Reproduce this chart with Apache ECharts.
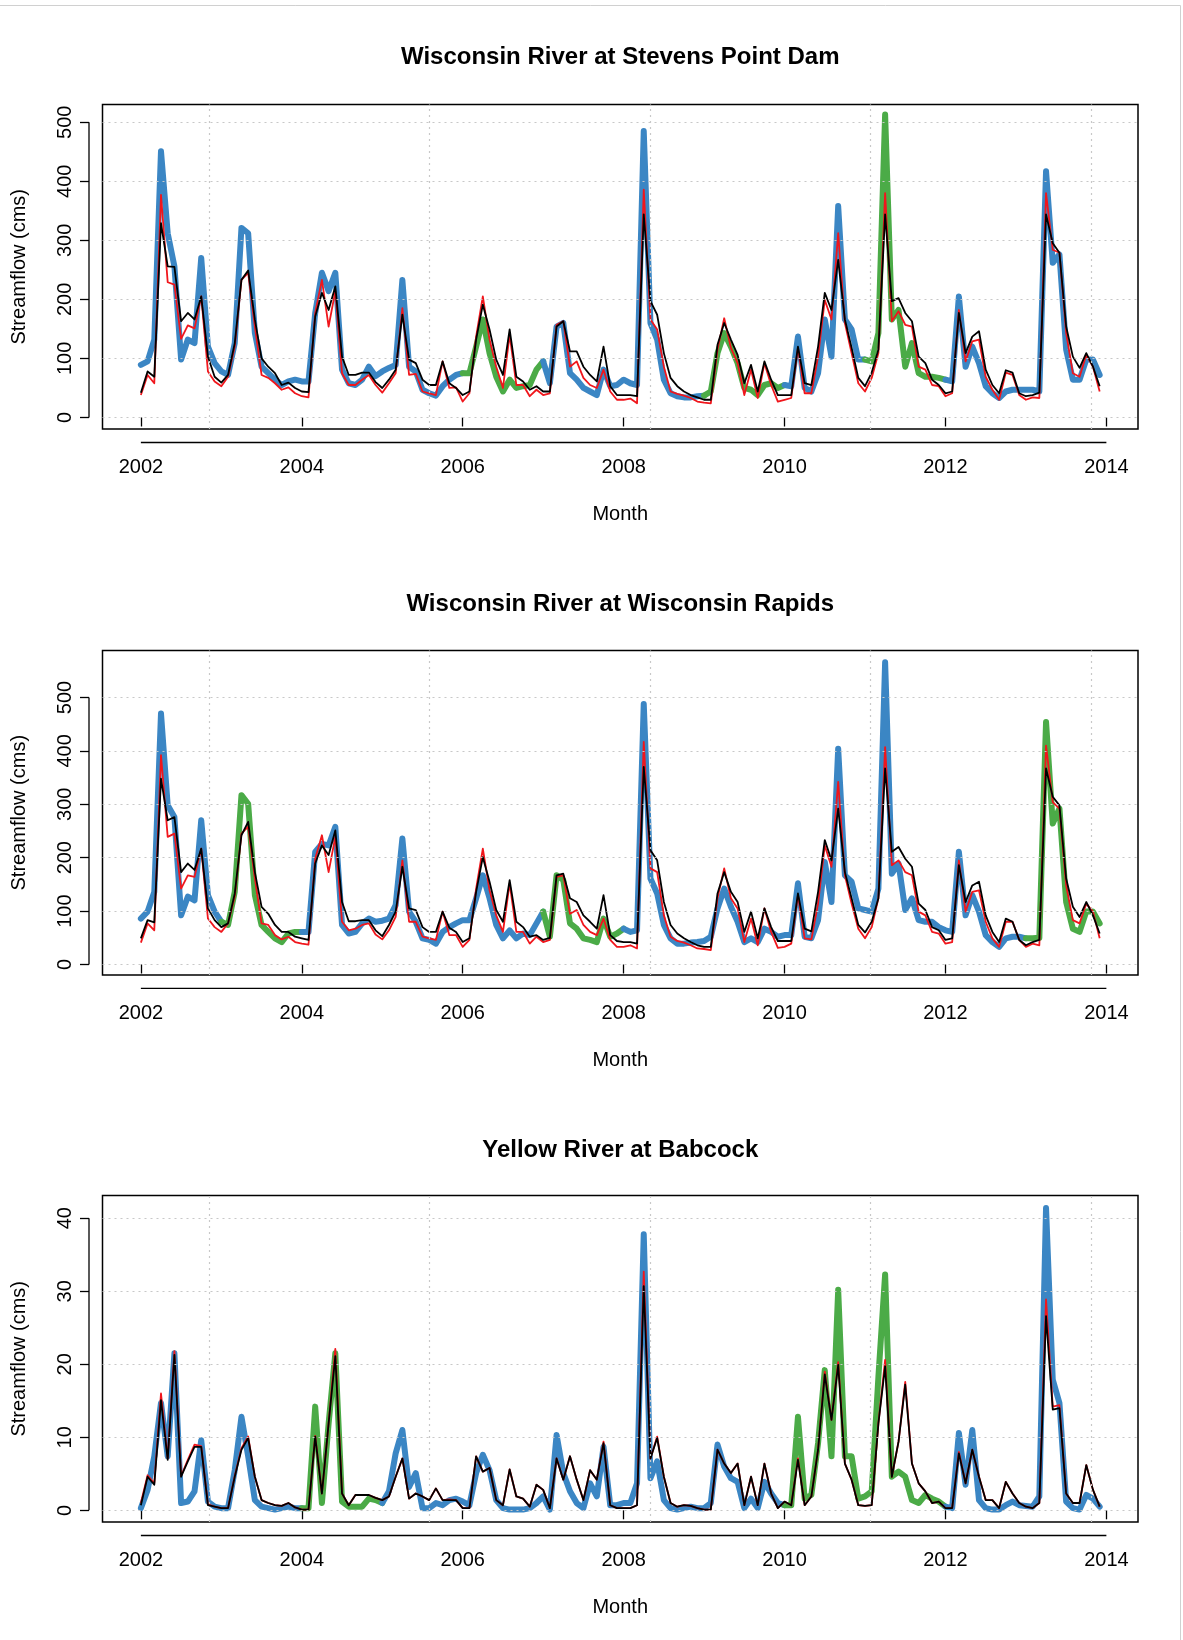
<!DOCTYPE html>
<html>
<head>
<meta charset="utf-8">
<title>Streamflow</title>
<script src="https://cdn.jsdelivr.net/npm/echarts@6/dist/echarts.min.js"></script>
<style>
  html, body { margin: 0; padding: 0; background: #ffffff; }
  #chart { width: 1183px; height: 1640px; }
</style>
</head>
<body>
<div id="chart"></div>
<script>
// Monthly time axis: Jan 2002 .. Dec 2013
const startYear = 2002;
const monthCount = 144;
const months = Array.from({ length: monthCount }, (_, i) => startYear + i / 12);

const xTickYears = [2002, 2004, 2006, 2008, 2010, 2012, 2014];
// grid() lines follow the pretty ticks of the underlying day counts (days since 1970-01-01)
const xGridDays = [12000, 13000, 14000, 15000, 16000];

const titles = [
  'Wisconsin River at Stevens Point Dam',
  'Wisconsin River at Wisconsin Rapids',
  'Yellow River at Babcock'
];
const yTicksLarge = [0, 100, 200, 300, 400, 500];
const yTicksSmall = [0, 10, 20, 30, 40];

// ---- Wisconsin River at Stevens Point Dam (cms) ----
const stevensObs = [
  89, 95, 132, 451, 312, 256, 98, 132, 126, 270, 120, 92,
  78, 72, 126, 321, 312, 143, 86, 75, 64, 55, 61, 64,
  61, 61, 177, 245, 214, 245, 81, 58, 55, 64, 86, 70,
  78, 84, 89, 233, 86, 78, 47, 41, 37, 53, 64, 72,
  75, 75, 120, 166, 109, 69, 44, 64, 50, 53, 55, 81,
  95, 58, 154, 160, 75, 64, 50, 44, 38, 81, 53, 55,
  64, 58, 55, 485, 160, 132, 64, 41, 36, 34, 34, 36,
  37, 44, 109, 143, 120, 92, 50, 47, 38, 55, 58, 50,
  55, 53, 137, 50, 44, 75, 166, 103, 358, 166, 149, 98,
  98, 95, 143, 513, 166, 182, 86, 126, 75, 69, 69, 67,
  64, 61, 205, 86, 120, 92, 53, 41, 33, 44, 47, 47,
  47, 47, 44, 417, 262, 276, 115, 64, 64, 98, 98, 72
];
const stevensRed = [
  38, 72, 58, 377, 229, 225, 133, 156, 151, 205, 78, 61,
  53, 69, 120, 233, 245, 154, 72, 67, 58, 47, 51, 41,
  36, 34, 177, 233, 154, 214, 75, 55, 55, 64, 72, 55,
  42, 58, 75, 185, 72, 74, 44, 41, 38, 95, 50, 51,
  27, 41, 137, 205, 132, 86, 50, 140, 55, 55, 36, 47,
  38, 41, 157, 163, 86, 95, 67, 55, 50, 81, 44, 30,
  30, 32, 24, 386, 166, 149, 86, 44, 40, 37, 33, 27,
  25, 24, 115, 168, 118, 92, 38, 81, 33, 92, 55, 27,
  30, 33, 118, 41, 41, 103, 199, 166, 312, 160, 109, 58,
  44, 67, 109, 380, 163, 180, 157, 154, 86, 81, 55, 53,
  36, 41, 182, 95, 129, 132, 69, 47, 30, 76, 72, 38,
  30, 34, 33, 380, 284, 279, 143, 75, 69, 106, 86, 44
];
const stevensBlack = [
  42, 78, 69, 329, 256, 255, 163, 177, 166, 205, 103, 69,
  59, 72, 126, 233, 249, 166, 100, 86, 75, 55, 59, 50,
  44, 43, 171, 211, 182, 222, 103, 72, 72, 76, 76, 60,
  50, 64, 81, 174, 98, 92, 64, 55, 55, 95, 58, 50,
  38, 44, 132, 191, 149, 98, 72, 149, 69, 61, 47, 53,
  44, 44, 154, 163, 112, 112, 86, 72, 61, 120, 53, 38,
  38, 38, 36, 344, 197, 174, 109, 67, 53, 44, 38, 34,
  30, 30, 123, 160, 132, 106, 58, 89, 44, 95, 64, 38,
  38, 38, 120, 58, 55, 120, 211, 182, 267, 166, 118, 67,
  53, 76, 115, 344, 197, 202, 177, 163, 103, 92, 64, 55,
  41, 44, 177, 109, 137, 146, 81, 55, 41, 80, 76, 41,
  36, 38, 42, 344, 295, 279, 154, 103, 84, 109, 86, 53
];
const stevensGreenYears = [2006, 2009, 2011];

// ---- Wisconsin River at Wisconsin Rapids (cms) ----
const rapidsObs = [
  86, 99, 136, 470, 298, 276, 92, 127, 120, 270, 130, 99,
  80, 74, 136, 317, 301, 130, 74, 61, 49, 42, 58, 61,
  61, 61, 211, 226, 223, 258, 74, 58, 61, 77, 86, 80,
  82, 86, 111, 236, 99, 80, 49, 46, 39, 61, 70, 77,
  83, 83, 124, 167, 124, 74, 49, 64, 49, 58, 55, 77,
  99, 52, 167, 158, 77, 67, 49, 46, 42, 86, 52, 58,
  67, 61, 64, 488, 161, 133, 74, 49, 39, 39, 41, 42,
  44, 52, 105, 142, 108, 80, 42, 49, 42, 67, 61, 52,
  55, 55, 152, 52, 49, 83, 192, 117, 404, 167, 155, 105,
  102, 99, 142, 566, 170, 189, 102, 124, 83, 80, 80, 70,
  64, 61, 211, 92, 130, 99, 55, 42, 33, 49, 52, 52,
  49, 49, 50, 454, 264, 292, 117, 67, 61, 99, 99, 77
];
const rapidsRed = [
  41, 77, 64, 392, 239, 245, 142, 167, 164, 217, 86, 70,
  61, 77, 127, 245, 258, 161, 77, 74, 55, 47, 52, 42,
  39, 37, 198, 242, 173, 239, 80, 64, 67, 74, 77, 56,
  47, 64, 89, 195, 80, 80, 52, 49, 46, 99, 55, 55,
  33, 46, 142, 217, 139, 92, 61, 152, 61, 61, 39, 52,
  42, 46, 164, 167, 95, 102, 74, 61, 55, 86, 46, 33,
  33, 36, 30, 417, 180, 173, 92, 52, 44, 41, 36, 30,
  29, 27, 124, 180, 124, 105, 42, 86, 36, 105, 61, 31,
  33, 39, 130, 49, 47, 114, 223, 183, 342, 167, 114, 67,
  49, 70, 124, 407, 186, 195, 173, 167, 99, 92, 61, 58,
  39, 42, 195, 99, 136, 139, 80, 49, 33, 80, 80, 46,
  33, 39, 36, 410, 304, 292, 148, 83, 77, 114, 99, 49
];
const rapidsBlack = [
  49, 83, 79, 348, 270, 276, 173, 189, 177, 217, 105, 83,
  70, 77, 133, 242, 267, 173, 108, 95, 74, 61, 61, 52,
  49, 46, 189, 223, 205, 251, 117, 81, 81, 83, 83, 64,
  53, 74, 99, 183, 105, 102, 70, 61, 61, 99, 69, 61,
  42, 49, 136, 201, 155, 102, 80, 158, 80, 70, 52, 55,
  46, 50, 167, 170, 124, 117, 92, 80, 67, 130, 55, 44,
  42, 42, 39, 370, 214, 195, 117, 74, 58, 49, 42, 36,
  33, 33, 133, 173, 136, 117, 61, 99, 49, 105, 70, 44,
  44, 44, 133, 67, 62, 136, 233, 195, 292, 173, 124, 74,
  60, 80, 124, 367, 211, 220, 198, 183, 114, 102, 70, 64,
  46, 49, 186, 117, 148, 155, 92, 61, 42, 86, 80, 46,
  36, 42, 46, 367, 314, 298, 161, 108, 89, 117, 92, 58
];
const rapidsGreenYears = [2003, 2007, 2013];

// ---- Yellow River at Babcock (cms) ----
const babcockObs = [
  0.3, 2.8, 7.4, 14.7, 7.4, 21.5, 1.0, 1.2, 2.6, 9.6, 1.2, 0.5,
  0.3, 0.3, 5.5, 12.8, 7.4, 1.4, 0.5, 0.3, 0.1, 0.3, 0.5, 0.3,
  0.3, 0.3, 14.2, 1.0, 11.9, 21.5, 1.2, 0.5, 0.5, 0.5, 1.6, 1.4,
  1.0, 2.6, 7.8, 11.0, 3.2, 5.1, 0.3, 0.3, 1.0, 0.7, 1.4, 1.6,
  1.2, 0.7, 5.1, 7.6, 5.5, 1.4, 0.3, 0.1, 0.1, 0.1, 0.3, 1.0,
  1.9, 0.1, 10.3, 5.1, 2.6, 1.0, 0.3, 3.7, 1.9, 8.7, 0.7, 0.7,
  1.0, 1.0, 3.7, 37.8, 4.4, 6.7, 1.4, 0.3, 0.1, 0.3, 0.5, 0.3,
  0.3, 1.0, 9.0, 6.0, 4.4, 3.9, 0.3, 1.6, 0.3, 3.9, 2.3, 1.0,
  0.7, 0.7, 12.8, 1.6, 2.1, 9.2, 19.2, 7.4, 30.2, 7.4, 7.4, 1.6,
  1.9, 2.6, 18.3, 32.3, 4.6, 5.3, 4.6, 1.4, 1.0, 2.1, 1.6, 1.2,
  0.5, 0.3, 10.6, 3.5, 11.0, 1.4, 0.3, 0.1, 0.1, 0.7, 1.2, 0.7,
  0.6, 0.5, 1.9, 41.4, 17.9, 14.7, 1.2, 0.3, 0.1, 2.1, 1.6, 0.5
];
const babcockRed = [
  1.0, 4.8, 3.7, 16.0, 7.1, 21.8, 4.7, 6.9, 9.0, 8.8, 0.8, 0.5,
  0.3, 0.3, 4.7, 8.5, 10.1, 4.6, 1.4, 1.0, 0.7, 0.6, 1.0, 0.4,
  0.1, 0.1, 10.2, 2.3, 11.9, 22.1, 2.3, 0.7, 2.1, 2.1, 2.1, 1.7,
  1.4, 1.9, 4.6, 7.1, 1.6, 2.3, 1.9, 1.4, 3.0, 1.4, 1.5, 1.4,
  0.3, 0.3, 7.4, 5.3, 5.8, 1.4, 0.7, 5.6, 1.9, 1.6, 0.5, 3.5,
  2.8, 0.3, 7.1, 4.2, 7.4, 4.2, 1.4, 5.5, 4.2, 9.4, 0.7, 0.3,
  0.3, 0.3, 0.7, 32.7, 7.1, 10.1, 4.6, 1.0, 0.5, 0.7, 0.6, 0.3,
  0.1, 0.1, 8.3, 6.4, 5.1, 6.4, 0.7, 4.6, 0.7, 6.4, 2.3, 0.3,
  1.2, 0.7, 7.1, 0.7, 1.9, 8.3, 19.0, 12.4, 20.3, 6.4, 4.2, 0.7,
  0.6, 0.7, 11.9, 20.6, 4.6, 9.4, 17.6, 6.4, 3.7, 2.6, 1.0, 1.2,
  0.3, 0.3, 8.0, 3.7, 8.3, 4.6, 1.4, 1.4, 0.3, 3.9, 2.3, 1.0,
  0.5, 0.3, 1.0, 28.9, 14.2, 14.4, 2.3, 1.0, 1.0, 6.2, 2.8, 0.5
];
const babcockBlack = [
  0.7, 4.6, 3.5, 15.1, 6.9, 21.3, 4.6, 6.7, 8.7, 8.7, 0.7, 0.5,
  0.3, 0.3, 4.6, 8.3, 9.9, 4.6, 1.4, 1.0, 0.7, 0.6, 1.0, 0.4,
  0.1, 0.1, 10.1, 2.3, 11.9, 21.1, 2.3, 0.7, 2.1, 2.1, 2.1, 1.7,
  1.4, 1.9, 4.6, 7.1, 1.6, 2.3, 1.9, 1.4, 3.0, 1.4, 1.4, 1.4,
  0.3, 0.3, 7.4, 5.3, 5.8, 1.4, 0.7, 5.6, 1.9, 1.6, 0.5, 3.5,
  2.8, 0.3, 7.1, 4.2, 7.4, 4.2, 1.4, 5.5, 4.2, 9.2, 0.7, 0.3,
  0.3, 0.3, 0.7, 30.7, 7.1, 9.9, 4.6, 1.0, 0.5, 0.7, 0.6, 0.3,
  0.1, 0.1, 8.3, 6.4, 5.1, 6.4, 0.7, 4.6, 0.7, 6.4, 2.3, 0.3,
  1.2, 0.7, 6.9, 0.7, 1.9, 8.3, 18.6, 12.4, 19.9, 6.4, 4.2, 0.7,
  0.6, 0.7, 11.9, 19.7, 4.6, 9.4, 17.2, 6.4, 3.7, 2.6, 1.0, 1.2,
  0.3, 0.3, 7.8, 3.7, 8.3, 4.6, 1.4, 1.4, 0.3, 3.9, 2.3, 1.0,
  0.5, 0.3, 1.0, 26.6, 13.8, 14.0, 2.3, 1.0, 1.0, 6.2, 2.8, 0.5
];
const babcockGreenYears = [2004, 2010, 2011];

// ---- layout & styling ----
const colors = { blue: '#3b86c4', green: '#4bab47', red: '#f0161c', black: '#000000', grid: '#c8c8c8' };
const plotLeft = 102.5, plotWidth = 1035.5;
const axisOffset = 13.5;
const xRange = [2001.523, 2014.393];
const fontFamily = '"Liberation Sans", Arial, Helvetica, sans-serif';

const panels = [
  { title: titles[0], top: 104.5, height: 324.5, yRange: [-19.5, 530], yTicks: yTicksLarge,
    obs: stevensObs, red: stevensRed, black: stevensBlack, green: stevensGreenYears, titleY: 57 },
  { title: titles[1], top: 650.5, height: 324.4, yRange: [-19.5, 588], yTicks: yTicksLarge,
    obs: rapidsObs, red: rapidsRed, black: rapidsBlack, green: rapidsGreenYears, titleY: 604.5 },
  { title: titles[2], top: 1195.6, height: 326.4, yRange: [-1.6, 43.1], yTicks: yTicksSmall,
    obs: babcockObs, red: babcockRed, black: babcockBlack, green: babcockGreenYears, titleY: 1150.5 }
];

function dayToYear(d) {
  const dt = new Date(Date.UTC(1970, 0, 1) + d * 86400000);
  const y = dt.getUTCFullYear();
  const y0 = Date.UTC(y, 0, 1), y1 = Date.UTC(y + 1, 0, 1);
  return y + (dt.getTime() - y0) / (y1 - y0);
}
const xGridYears = xGridDays.map(dayToYear);

const pairs = (vals) => vals.map((v, i) => [months[i], v]);

// Split the thick observed line into blue / green runs; each segment takes the colour of its starting year
function observedRuns(vals, greenYears) {
  const runs = [];
  let cur = null;
  for (let i = 0; i < vals.length - 1; i++) {
    const yr = startYear + Math.floor(i / 12);
    const c = greenYears.includes(yr) ? colors.green : colors.blue;
    if (!cur || cur.color !== c) {
      cur = { color: c, pts: [[months[i], vals[i]]] };
      runs.push(cur);
    }
    cur.pts.push([months[i + 1], vals[i + 1]]);
  }
  return runs;
}

const grid = [], xAxis = [], yAxis = [], series = [], title = [];
panels.forEach((p, gi) => {
  grid.push({ left: plotLeft, width: plotWidth, top: p.top, height: p.height,
    show: true, borderColor: '#000', borderWidth: 1.5, backgroundColor: 'transparent', containLabel: false });
  title.push({ text: p.title, left: plotLeft + plotWidth / 2, top: p.titleY - 13, textAlign: 'center', padding: 0,
    textStyle: { fontFamily, fontSize: 24, fontWeight: 'bold', color: '#000', lineHeight: 26 } });
  xAxis.push({
    type: 'value', gridIndex: gi, min: xRange[0], max: xRange[1], offset: axisOffset,
    name: 'Month', nameLocation: 'middle', nameGap: 62,
    nameTextStyle: { fontFamily, fontSize: 20, color: '#000' },
    axisLine: { show: false },
    axisTick: { show: true, inside: false, length: 9, customValues: xTickYears, lineStyle: { color: '#000', width: 1.3 } },
    axisLabel: { show: true, customValues: xTickYears, margin: 15, fontFamily, fontSize: 20, color: '#000',
      formatter: (v) => String(Math.round(v)) },
    splitLine: { show: false }
  });
  yAxis.push({
    type: 'value', gridIndex: gi, min: p.yRange[0], max: p.yRange[1], offset: axisOffset,
    name: 'Streamflow (cms)', nameLocation: 'middle', nameGap: 60, nameRotate: 90,
    nameTextStyle: { fontFamily, fontSize: 20, color: '#000' },
    axisLine: { show: false },
    axisTick: { show: true, inside: false, length: 9, customValues: p.yTicks, lineStyle: { color: '#000', width: 1.3 } },
    axisLabel: { show: true, customValues: p.yTicks, rotate: 90, margin: 14, fontFamily, fontSize: 20, color: '#000' },
    splitLine: { show: false }
  });
  // dotted reference grid
  series.push({
    type: 'line', xAxisIndex: gi, yAxisIndex: gi, data: [], silent: true, animation: false,
    markLine: { silent: true, symbol: 'none', animation: false, label: { show: false },
      lineStyle: { type: [2, 4], color: colors.grid, width: 1.2 },
      emphasis: { disabled: true },
      data: [...xGridYears.map(x => ({ xAxis: x })), ...p.yTicks.map(y => ({ yAxis: y }))] }
  });
  observedRuns(p.obs, p.green).forEach(run => {
    series.push({ type: 'line', xAxisIndex: gi, yAxisIndex: gi, data: run.pts, showSymbol: false,
      silent: true, animation: false, z: 2,
      lineStyle: { color: run.color, width: 6, cap: 'round', join: 'round' } });
  });
  series.push({ type: 'line', xAxisIndex: gi, yAxisIndex: gi, data: pairs(p.red), showSymbol: false,
    silent: true, animation: false, z: 3, lineStyle: { color: colors.red, width: 1.8, join: 'round' } });
  series.push({ type: 'line', xAxisIndex: gi, yAxisIndex: gi, data: pairs(p.black), showSymbol: false,
    silent: true, animation: false, z: 4, lineStyle: { color: colors.black, width: 1.8, join: 'round' } });
});

const chart = echarts.init(document.getElementById('chart'), null, { renderer: 'canvas' });
chart.setOption({ animation: false, backgroundColor: '#ffffff', title, grid, xAxis, yAxis, series });

// R-style axis lines: span only from the first to the last tick, set off from the plot box
const graphic = [];
panels.forEach((p, gi) => {
  const a = chart.convertToPixel({ gridIndex: gi }, [xTickYears[0], p.yTicks[0]]);
  const b = chart.convertToPixel({ gridIndex: gi }, [xTickYears[xTickYears.length - 1], p.yTicks[p.yTicks.length - 1]]);
  const yAx = p.top + p.height + axisOffset;
  const xAx = plotLeft - axisOffset;
  graphic.push({ type: 'line', shape: { x1: a[0], y1: yAx, x2: b[0], y2: yAx }, style: { stroke: '#000', lineWidth: 1.3 }, silent: true });
  graphic.push({ type: 'line', shape: { x1: xAx, y1: a[1], x2: xAx, y2: b[1] }, style: { stroke: '#000', lineWidth: 1.3 }, silent: true });
});
// thin page frame along the top and right edges
graphic.push({ type: 'polyline', shape: { points: [[0, 5.5], [1180.5, 5.5], [1180.5, 1640]] },
  style: { stroke: '#d0d0d0', lineWidth: 1, fill: null }, silent: true });
chart.setOption({ graphic });
</script>
</body>
</html>
